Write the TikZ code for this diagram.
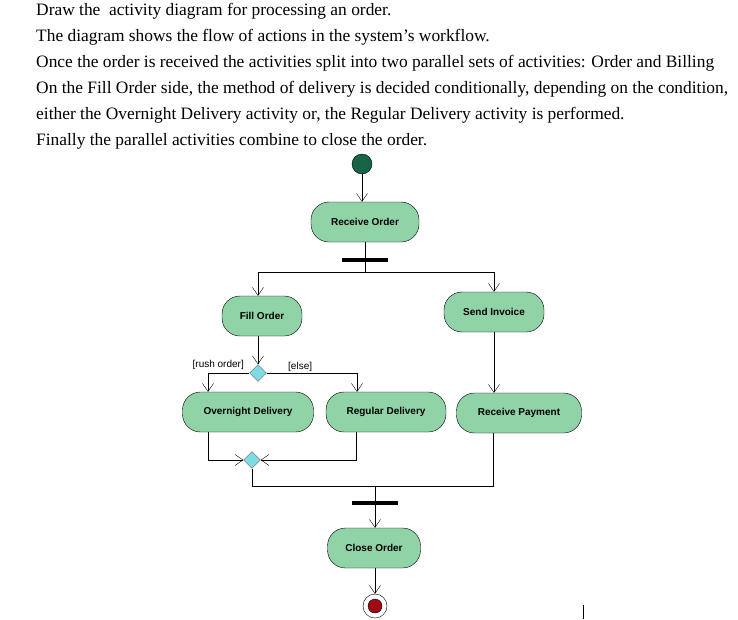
\documentclass[tikz,border=0pt]{standalone}
\usepackage{fontspec}
\setmainfont{Liberation Serif}
\newfontfamily\actfont{Liberation Sans}
\usetikzlibrary{shapes.geometric, arrows.meta}
\definecolor{actgreen}{RGB}{143,211,166}
\definecolor{decblue}{RGB}{128,218,226}
\definecolor{startgreen}{RGB}{24,100,70}
\definecolor{endred}{RGB}{160,10,20}
\tikzset{
  act/.style = {draw = black, fill = actgreen, rounded corners = 18pt, minimum height = 40pt, font = \actfont\bfseries\fontsize{10}{12}\selectfont},
  dec/.style = {draw = black!60, fill = decblue, diamond, minimum size = 17pt, inner sep = 0pt},
  bar/.style = {fill = black, minimum width = 46pt, minimum height = 3.5pt, inner sep = 0pt},
  flow/.style = {draw, -{Straight Barb[length = 8pt, width = 11pt]}},
  guard/.style = {font = \actfont\fontsize{10}{12}\selectfont, inner sep = 1pt}
}
\begin{document}
\begin{tikzpicture}[x = 1pt, y = -1pt]
\useasboundingbox (0, 0) rectangle (738, 619);

\node [anchor = west, align = left, font = \fontsize{17.4}{26}\selectfont, inner sep = 0pt] (task) at (36, 76)
  {Draw the \ activity diagram for processing an order.\\
   The diagram shows the flow of actions in the system's workflow.\\
   Once the order is received the activities split into two parallel sets of activities: Order and Billing\\
   On the Fill Order side, the method of delivery is decided conditionally, depending on the condition,\\
   either the Overnight Delivery activity or, the Regular Delivery activity is performed.\\
   Finally the parallel activities combine to close the order.};

\node [draw = black, fill = startgreen, shape = circle, minimum size = 20pt, inner sep = 0pt] (start) at (362, 164) {};
\node [act, minimum width = 108pt] (recv) at (365, 222) {Receive Order};
\node [bar] (fork) at (365, 260) {};
\path [draw, -{Straight Barb[length = 8pt, width = 11pt]}] (start) -- (start |- recv.north);
\path [draw] (recv.south) -- (365, 272);

\node [act, minimum width = 80pt] (fill) at (262, 316) {Fill Order};
\node [act, minimum width = 100pt] (invoice) at (494, 312) {Send Invoice};
\coordinate (split) at (365, 272);
\path [flow] (split) -| (fill.north -| 258, 0);
\path [flow] (split) -| (invoice);

\node [dec] (choice) at (258, 373) {};
\path [flow] (fill.south -| choice) -- (choice);

\node [act, minimum width = 131pt] (night) at (248, 412) {Overnight Delivery};
\node [act, minimum width = 120pt] (regular) at (386, 412) {Regular Delivery};
\node [act, minimum width = 125pt] (payment) at (519, 413) {Receive Payment};
\path [flow] (choice) -| (night.north -| 208, 0);
\path [flow] (choice) -| (regular.north -| 357, 0);
\path [flow] (invoice) -- (payment.north -| invoice);
\node [guard, anchor = south east] (rush) at (245, 371) {[rush order]};
\node [guard, anchor = south west] (else) at (287, 373) {[else]};

\node [dec] (merge) at (252, 460) {};
\path [flow] (night.south -| 208, 0) |- (merge);
\path [flow] (regular.south -| 356, 0) |- (merge);

\coordinate (join) at (375, 486);
\node [bar] (sync) at (375, 503) {};
\path [draw] (merge) |- (join);
\path [draw] (payment.south -| 493, 0) |- (join);
\node [act, minimum width = 93pt] (close) at (374, 548) {Close Order};
\path [flow] (join) -- (close.north -| join);

\node [draw = black, shape = circle, minimum size = 24pt, inner sep = 0pt] (stop) at (375, 606) {};
\node [fill = endred, draw = black, shape = circle, minimum size = 14pt, inner sep = 0pt] at (stop) {};
\path [flow] (close.south -| stop) -- (stop);

\path [draw, line width = 1pt] (583, 605) -- (583, 619);
\end{tikzpicture}
\end{document}
